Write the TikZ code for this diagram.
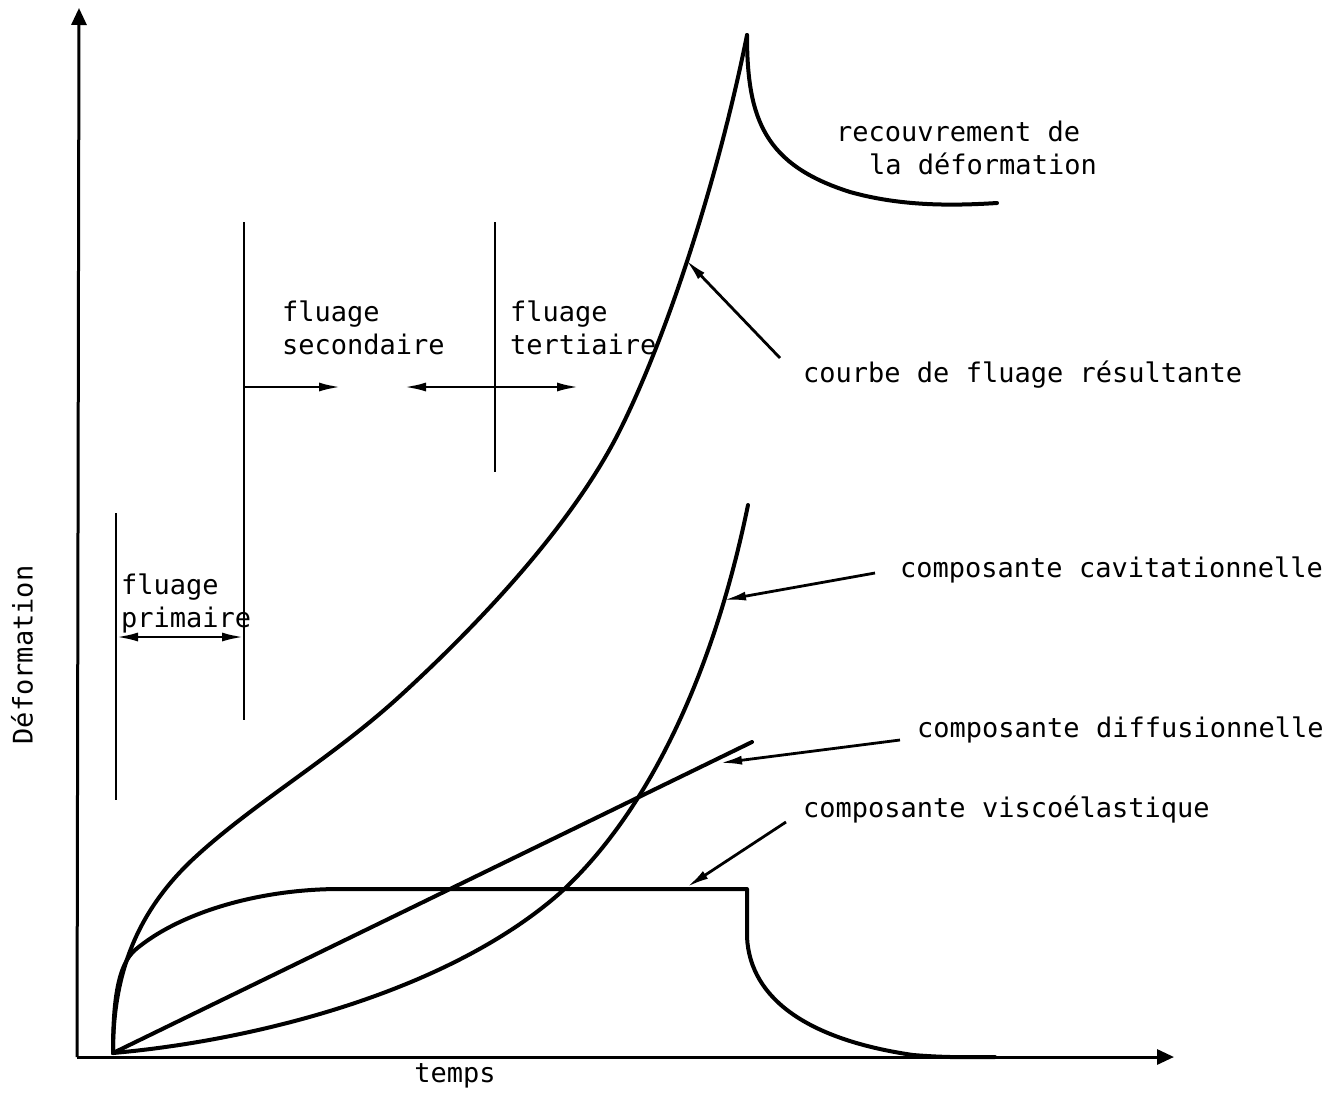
\documentclass[tikz,border=0pt]{standalone}
\usepackage{fontspec}
\newfontfamily\lblfont{DejaVu Sans Mono}
\usetikzlibrary{arrows.meta}
\begin{document}
\begin{tikzpicture}[x=1pt,y=-1pt,
  axis/.style={line width=3pt, -{Triangle[length=17pt,width=15pt]}},
  curve/.style={line width=4pt, line join=round, line cap=round},
  guide/.style={line width=2.8pt},
  head/.style={line width=2.8pt, -{Latex[length=22pt,width=9pt]}},
  twohead/.style={line width=2.8pt, {Latex[length=22pt,width=9pt]}-{Latex[length=22pt,width=9pt]}},
  lbl/.style={font=\lblfont\fontsize{27}{33}\selectfont, inner sep=0pt, align=left}]
\useasboundingbox (0,0) rectangle (1338,1095);

% axes
\coordinate (O) at (77,1057);
\coordinate (ytip) at (79,8);
\coordinate (xtip) at (1174,1057);
\draw[axis] (O) -- (ytip);
\draw[axis] (O) -- (xtip);
\node[lbl, anchor=center] (tlabel) at (455,1076) {temps};
\node[lbl, anchor=center, rotate=90] (dlabel) at (22,655) {Déformation};

% stage boundaries
\draw[guide] (116,513) -- (116,800);
\draw[guide] (244,222) -- (244,720);
\draw[guide] (495,222) -- (495,472);
\coordinate (p1) at (116,637);
\coordinate (p2) at (244,637);
\draw[twohead] (p1) -- (p2);
\coordinate (s1) at (244,387);
\coordinate (s2) at (341,387);
\draw[head] (s1) -- (s2);
\coordinate (t1) at (404,387);
\coordinate (t2) at (579,387);
\draw[twohead] (t1) -- (t2);
\node[lbl, anchor=west] (prim) at (121,603) {fluage\\primaire};
\node[lbl, anchor=west] (sec) at (282,328) {fluage\\secondaire};
\node[lbl, anchor=west] (ter) at (510,328) {fluage\\tertiaire};

% resultant creep curve
\draw[curve] (113,1053) .. controls (113,985) and (130,920) .. (190,862)
  .. controls (250,805) and (330,760) .. (400,696)
  .. controls (470,632) and (570,530) .. (620,430)
  .. controls (670,330) and (720,170) .. (747,35);
% strain recovery
\draw[curve] (747,35) .. controls (747,120) and (765,165) .. (850,192)
  .. controls (900,206) and (950,206) .. (997,203);
% cavitational component
\draw[curve] (113,1053) .. controls (260,1040) and (450,990) .. (560,893)
  .. controls (640,820) and (710,690) .. (748,505);
% diffusional component
\draw[curve] (113,1053) -- (752,742);
% viscoelastic component
\draw[curve] (113,1053) .. controls (113,1000) and (118,965) .. (135,950)
  .. controls (180,912) and (260,889) .. (340,889) -- (747,889) -- (747,937)
  .. controls (750,1000) and (810,1040) .. (913,1055)
  .. controls (950,1058) and (970,1057) .. (995,1057);

% labels and pointers
\node[lbl, anchor=west] (rec) at (836,148) {recouvrement de\\\hspace*{33pt}la déformation};
\node[lbl, anchor=west] (res) at (803,375) {courbe de fluage résultante};
\coordinate (resA) at (780,358);
\coordinate (resB) at (686,260);
\draw[head] (resA) -- (resB);
\node[lbl, anchor=west] (cav) at (900,570) {composante cavitationnelle};
\coordinate (cavA) at (875,573);
\coordinate (cavB) at (724,600);
\draw[head] (cavA) -- (cavB);
\node[lbl, anchor=west] (dif) at (917,730) {composante diffusionnelle};
\coordinate (difA) at (900,740);
\coordinate (difB) at (720,763);
\draw[head] (difA) -- (difB);
\node[lbl, anchor=west] (vis) at (803,810) {composante viscoélastique};
\coordinate (visA) at (786,822);
\coordinate (visB) at (687,887);
\draw[head] (visA) -- (visB);
\end{tikzpicture}
\end{document}
